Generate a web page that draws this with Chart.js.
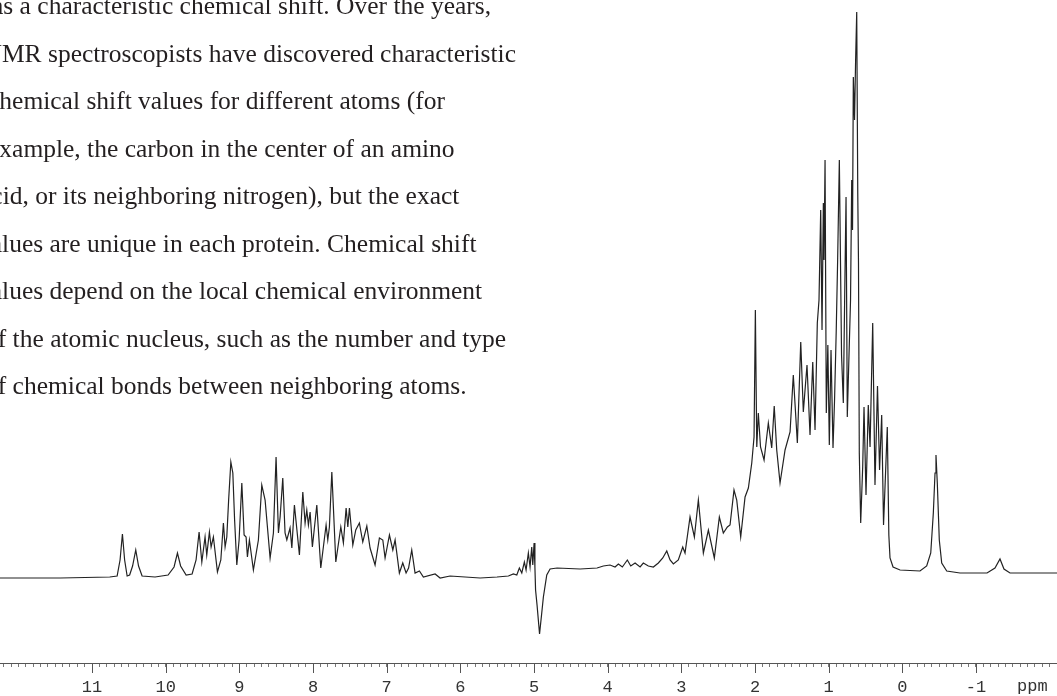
<!DOCTYPE html>
<html>
<head>
<meta charset="utf-8">
<script src="https://cdn.jsdelivr.net/npm/chart.js@4.4.1/dist/chart.umd.min.js"></script>
<style>
  body { margin: 0; background: #fff; }
  #wrap { position: relative; width: 1057px; height: 696px; overflow: hidden; }
  #wrap canvas { position: absolute; left: 0; top: 0; }
  .txt { position: absolute; white-space: nowrap; font: 25.5px "Liberation Serif", serif; line-height: 30px; color: #231f20; }
  #unit { position: absolute; left: 1017px; top: 679px; font: 17px "Liberation Mono", monospace; line-height: 16px; color: #333; }
</style>
</head>
<body>
<div id="wrap">
  <canvas id="nmr" width="1057" height="696"></canvas>
  <div class="txt" style="left:-8px; top:-8.6px">as a characteristic chemical shift. Over the years,</div>
  <div class="txt" style="left:-16.5px; top:38.9px">NMR spectroscopists have discovered characteristic</div>
  <div class="txt" style="left:-12px; top:86.4px">chemical shift values for different atoms (for</div>
  <div class="txt" style="left:-12px; top:133.9px">example, the carbon in the center of an amino</div>
  <div class="txt" style="left:-20px; top:181.4px">acid, or its neighboring nitrogen), but the exact</div>
  <div class="txt" style="left:-22px; top:228.9px">values are unique in each protein. Chemical shift</div>
  <div class="txt" style="left:-22px; top:276.4px">values depend on the local chemical environment</div>
  <div class="txt" style="left:-15px; top:323.9px">of the atomic nucleus, such as the number and type</div>
  <div class="txt" style="left:-15px; top:371.4px">of chemical bonds between neighboring atoms.</div>
  <div id="unit">ppm</div>
</div>
<script>
// chemical shift (ppm) and signal height (arbitrary units)
const shiftPpm = [
  12.25, 11.43, 10.76, 10.66, 10.62, 10.588, 10.558, 10.524, 10.49, 10.45,
  10.407, 10.369, 10.321, 10.145, 9.968, 9.887, 9.841, 9.798, 9.723, 9.642,
  9.588, 9.547, 9.510, 9.466, 9.443, 9.407, 9.384, 9.353, 9.298, 9.252,
  9.217, 9.194, 9.171, 9.146, 9.116, 9.089, 9.065, 9.035, 9.004, 8.967,
  8.936, 8.909, 8.891, 8.864, 8.810, 8.742, 8.696, 8.651, 8.583, 8.538,
  8.502, 8.470, 8.447, 8.411, 8.380, 8.356, 8.312, 8.288, 8.253, 8.185,
  8.139, 8.108, 8.085, 8.063, 8.040, 8.009, 7.949, 7.895, 7.823, 7.800,
  7.778, 7.745, 7.691, 7.623, 7.588, 7.551, 7.528, 7.506, 7.460, 7.420,
  7.371, 7.325, 7.270, 7.226, 7.158, 7.099, 7.053, 7.022, 6.963, 6.917,
  6.886, 6.828, 6.782, 6.737, 6.703, 6.660, 6.615, 6.556, 6.502, 6.343,
  6.275, 6.140, 5.936, 5.732, 5.502, 5.348, 5.280, 5.234, 5.199, 5.166,
  5.131, 5.108, 5.077, 5.054, 5.031, 5.017, 4.999, 4.988, 4.979, 4.959,
  4.925, 4.898, 4.873, 4.827, 4.782, 4.687, 4.375, 4.144, 4.059, 3.968,
  3.900, 3.855, 3.801, 3.733, 3.687, 3.628, 3.560, 3.516, 3.448, 3.380,
  3.312, 3.252, 3.198, 3.153, 3.108, 3.041, 2.981, 2.950, 2.882, 2.823,
  2.769, 2.701, 2.633, 2.552, 2.484, 2.430, 2.375, 2.339, 2.285, 2.248,
  2.194, 2.135, 2.090, 2.044, 2.013, 1.995, 1.976, 1.955, 1.925, 1.877,
  1.819, 1.773, 1.739, 1.705, 1.660, 1.592, 1.524, 1.480, 1.425, 1.379,
  1.344, 1.294, 1.253, 1.216, 1.185, 1.154, 1.131, 1.108, 1.090, 1.072,
  1.063, 1.049, 1.032, 1.011, 0.991, 0.968, 0.941, 0.920, 0.897, 0.878,
  0.855, 0.825, 0.801, 0.783, 0.764, 0.747, 0.717, 0.703, 0.687, 0.676,
  0.665, 0.649, 0.634, 0.619, 0.605, 0.595, 0.584, 0.565, 0.538, 0.520,
  0.493, 0.462, 0.438, 0.402, 0.371, 0.337, 0.309, 0.280, 0.255, 0.235,
  0.204, 0.183, 0.167, 0.126, 0.031, -0.240, -0.331, -0.386, -0.421, -0.444,
  -0.457, -0.475, -0.502, -0.535, -0.603, -0.783, -1.150, -1.258, -1.326, -1.380,
  -1.462, -2.10
];

const intensity = [
  0, 0, 1, 2, 18, 44, 18, 2, 3, 12,
  28, 12, 2, 1, 3, 11, 25, 12, 3, 4,
  18, 46, 16, 41, 23, 46, 31, 41, 6, 18,
  55, 31, 41, 78, 116, 105, 58, 13, 38, 95,
  43, 41, 21, 38, 8, 38, 93, 78, 20, 45,
  121, 45, 61, 100, 45, 38, 50, 30, 73, 23,
  86, 55, 68, 53, 66, 31, 73, 10, 53, 38,
  51, 106, 16, 51, 35, 70, 51, 70, 33, 48,
  55, 36, 52, 30, 13, 40, 38, 20, 43, 28,
  38, 5, 15, 5, 10, 28, 5, 7, 1, 4,
  0, 2, 1, 0, 1, 2, 4, 3, 10, 5,
  16, 8, 25, 11, 31, 13, 35, 11, -12, -27,
  -56, -37, -19, 3, 9, 10, 9, 10, 12, 13,
  11, 14, 11, 18, 12, 15, 11, 15, 12, 11,
  15, 20, 27, 18, 14, 18, 31, 25, 61, 41,
  78, 25, 48, 20, 61, 45, 51, 53, 88, 78,
  41, 81, 90, 115, 141, 268, 131, 165, 131, 118,
  155, 130, 172, 128, 95, 128, 146, 203, 135, 236,
  166, 213, 143, 216, 148, 255, 278, 368, 248, 375,
  318, 418, 165, 233, 133, 228, 130, 178, 248, 318,
  418, 223, 175, 278, 381, 161, 241, 278, 398, 348,
  501, 458, 518, 566, 385, 315, 125, 55, 111, 171,
  83, 173, 131, 255, 93, 192, 108, 163, 53, 91,
  151, 43, 20, 11, 8, 7, 12, 25, 65, 105,
  123, 95, 38, 15, 7, 5, 5, 10, 19, 9,
  5, 5
];

const tickLabels = [11, 10, 9, 8, 7, 6, 5, 4, 3, 2, 1, 0, -1];

// long marks at the labelled ppm values, short ones come from the axis grid
const majorTicks = {
  id: 'majorTicks',
  afterDraw(chart) {
    const xs = chart.scales.x;
    const ctx = chart.ctx;
    const y0 = chart.chartArea.bottom;
    ctx.save();
    ctx.strokeStyle = '#555';
    ctx.lineWidth = 1;
    ctx.beginPath();
    tickLabels.forEach(v => {
      const px = Math.round(xs.getPixelForValue(v)) + 0.5;
      ctx.moveTo(px, y0);
      ctx.lineTo(px, y0 + 10);
    });
    ctx.stroke();
    ctx.restore();
  }
};

new Chart(document.getElementById('nmr'), {
  type: 'line',
  data: {
    datasets: [{
      data: shiftPpm.map((p, i) => ({ x: p, y: intensity[i] })),
      borderColor: '#222',
      borderWidth: 1.2,
      pointRadius: 0,
      pointHoverRadius: 0,
      tension: 0,
      fill: false,
      clip: false
    }]
  },
  options: {
    responsive: false,
    animation: false,
    layout: { padding: 0, autoPadding: false },
    plugins: {
      legend: { display: false },
      tooltip: { enabled: false }
    },
    scales: {
      x: {
        type: 'linear',
        reverse: true,
        min: -2.10,
        max: 12.25,
        afterFit(scale) {
          scale.height = 33;
          scale.paddingLeft = 0;
          scale.paddingRight = 0;
        },
        border: { display: true, color: '#555', width: 1 },
        grid: { display: true, drawOnChartArea: false, tickLength: 4, color: '#777' },
        ticks: {
          stepSize: 0.1,
          includeBounds: false,
          autoSkip: false,
          maxRotation: 0,
          minRotation: 0,
          padding: 10,
          color: '#333',
          font: { family: 'Liberation Mono', size: 17 },
          callback: (value) => tickLabels.includes(value) ? String(value) : ''
        }
      },
      y: {
        display: false,
        min: -85,
        max: 578
      }
    }
  },
  plugins: [majorTicks]
});
</script>
</body>
</html>
